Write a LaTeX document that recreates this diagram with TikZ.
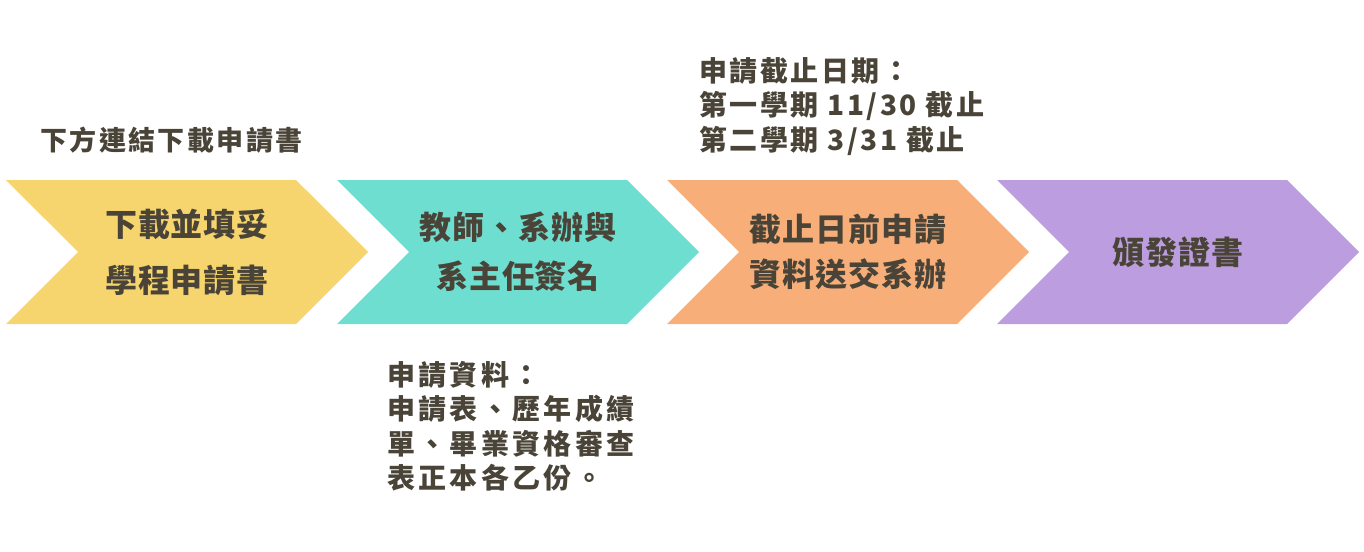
\documentclass[tikz,border=0pt]{standalone}
\usepackage{fontspec}
\usepackage{xcolor}
\usetikzlibrary{shapes.symbols,positioning}
\newfontfamily\cjkstep{Noto Sans CJK TC}[LetterSpace=3]
\newfontfamily\cjknote{Noto Sans CJK TC}[LetterSpace=9]
\newfontfamily\cjkwide{Noto Sans CJK TC}[LetterSpace=12]
\definecolor{stepyellow}{HTML}{F7D56E}
\definecolor{stepteal}{HTML}{6EDED0}
\definecolor{steporange}{HTML}{F7AE79}
\definecolor{steppurple}{HTML}{BB9DE0}
\definecolor{textdark}{HTML}{4A4438}

\begin{document}
\begin{tikzpicture}[x=1pt, y=1pt,
    stepsig/.style={signal, signal from=west, signal to=east, signal pointer angle=90, minimum width=362pt, minimum height=144pt, inner sep=0pt, text=textdark, align=center},
    stepfont/.style={font=\cjkstep\bfseries\fontsize{32}{#1}\selectfont},
    note/.style={font=\cjknote\bfseries\fontsize{28}{34.5}\selectfont, text=textdark, align=left, inner sep=0pt},
]
\useasboundingbox (0,0) rectangle (1364,-551);

% Steps
\node[stepsig, fill=stepyellow, stepfont=56] (apply) at (187,-252) {下載並填妥\\學程申請書};
\node[stepsig, fill=stepteal, stepfont=49] (sign) at (518,-252) {教師、系辦與\\系主任簽名};
\node[stepsig, fill=steporange, stepfont=45] (submit) at (848,-252) {截止日前申請\\資料送交系辦};
\node[stepsig, fill=steppurple, stepfont=45] (award) at (1178,-252) {頒發證書};

% Notes
\node[note, font=\cjknote\bfseries\fontsize{27}{34.5}\selectfont, anchor=west] (link) at (40,-140) {下方連結下載申請書};
\node[note, anchor=north west] (due) at (699,-57) {申請截止日期：\\第一學期 11/30 截止\\第二學期 3/31 截止};
\node[note, font=\cjkwide\bfseries\fontsize{28}{34.5}\selectfont, anchor=north west] (docs) at (387,-361) {申請資料：\\申請表、歷年成績\\單、畢業資格審查\\表正本各乙份。};

\end{tikzpicture}
\end{document}
